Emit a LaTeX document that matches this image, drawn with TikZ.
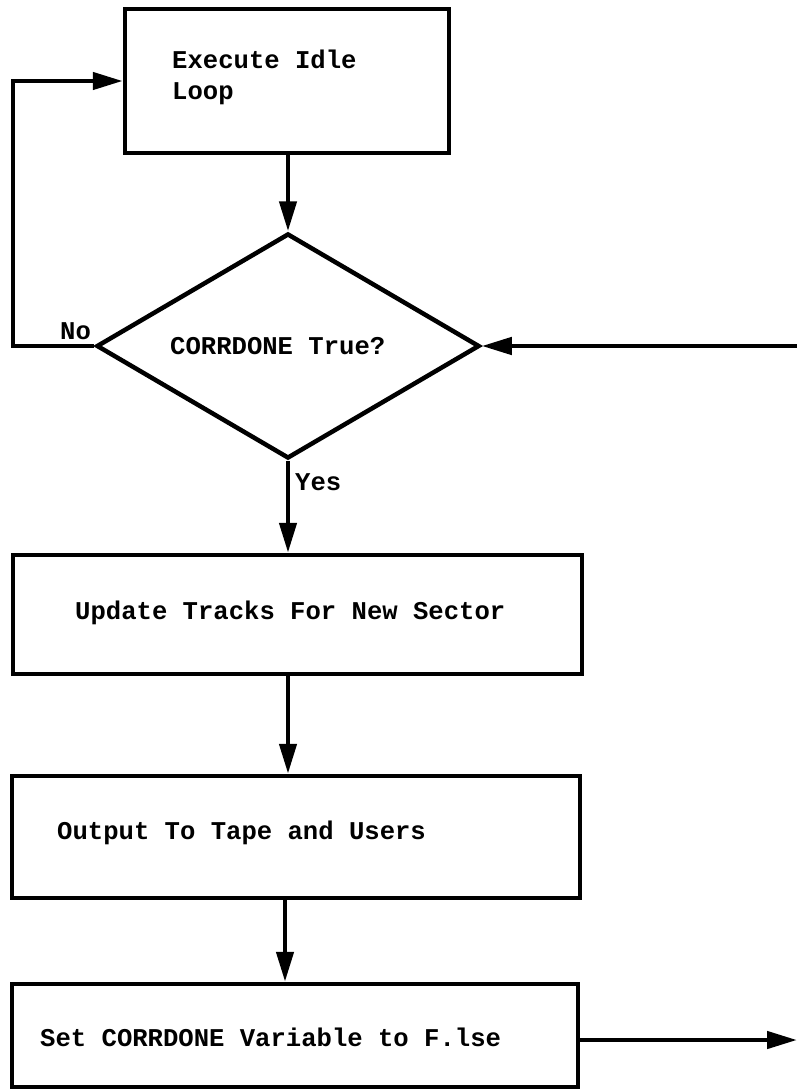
\documentclass[tikz,border=0pt]{standalone}
\usepackage{fontspec}
\setmainfont{Liberation Mono}
\usetikzlibrary{shapes.geometric,arrows.meta}
\tikzset{
  box/.style={draw, line width=4.5pt, rectangle, inner sep=0pt},
  dec/.style={draw, line width=4.5pt, diamond, inner sep=0pt},
  lbl/.style={inner sep=0pt, anchor=west, align=left, font=\fontsize{25.6pt}{31pt}\selectfont\bfseries},
  arr/.style={line width=4.5pt, -{Triangle[length=30pt,width=17pt]}},
  ln/.style={line width=4.5pt}
}
\begin{document}
\begin{tikzpicture}[x=1pt,y=-1pt]
\useasboundingbox (0,0) rectangle (797,1089);
\node[box, minimum width=324pt, minimum height=144pt] (b1) at (287,81) {};
\node[dec, minimum width=383pt, minimum height=225pt] (d) at (288,346) {};
\node[box, minimum width=569pt, minimum height=119pt] (b2) at (297.5,614.5) {};
\node[box, minimum width=568pt, minimum height=122pt] (b3) at (296,837) {};
\node[box, minimum width=566pt, minimum height=103pt] (b4) at (295,1035.5) {};

\node[lbl] (t1) at (172,77) {Execute Idle\\Loop};
\node[lbl] (td) at (170,346) {CORRDONE True?};
\node[lbl] (tno) at (60,331) {No};
\node[lbl] (tyes) at (295,482) {Yes};
\node[lbl] (t2) at (75,613) {Update Tracks For New Sector};
\node[lbl] (t3) at (57,833) {Output To Tape and Users};
\node[lbl] (t4) at (40,1037) {Set CORRDONE Variable to F.lse};

\coordinate (lc) at (13,81);
\coordinate (rin) at (797,346);
\coordinate (rout) at (797,1040);

\draw[arr] (d.north |- b1.south) -- (d.north);
\draw[arr] (d.west) -| (lc) -- (b1.west);
\draw[arr] (rin) -- (d.east);
\draw[arr] (d.south) -- (d.south |- b2.north);
\draw[arr] (b2.south -| d.south) -- (b3.north -| d.south);
\draw[arr] ([xshift=-3pt]b3.south -| d.south) -- ([xshift=-3pt]b4.north -| d.south);
\draw[arr] (b4.east |- rout) -- (rout);
\end{tikzpicture}
\end{document}
